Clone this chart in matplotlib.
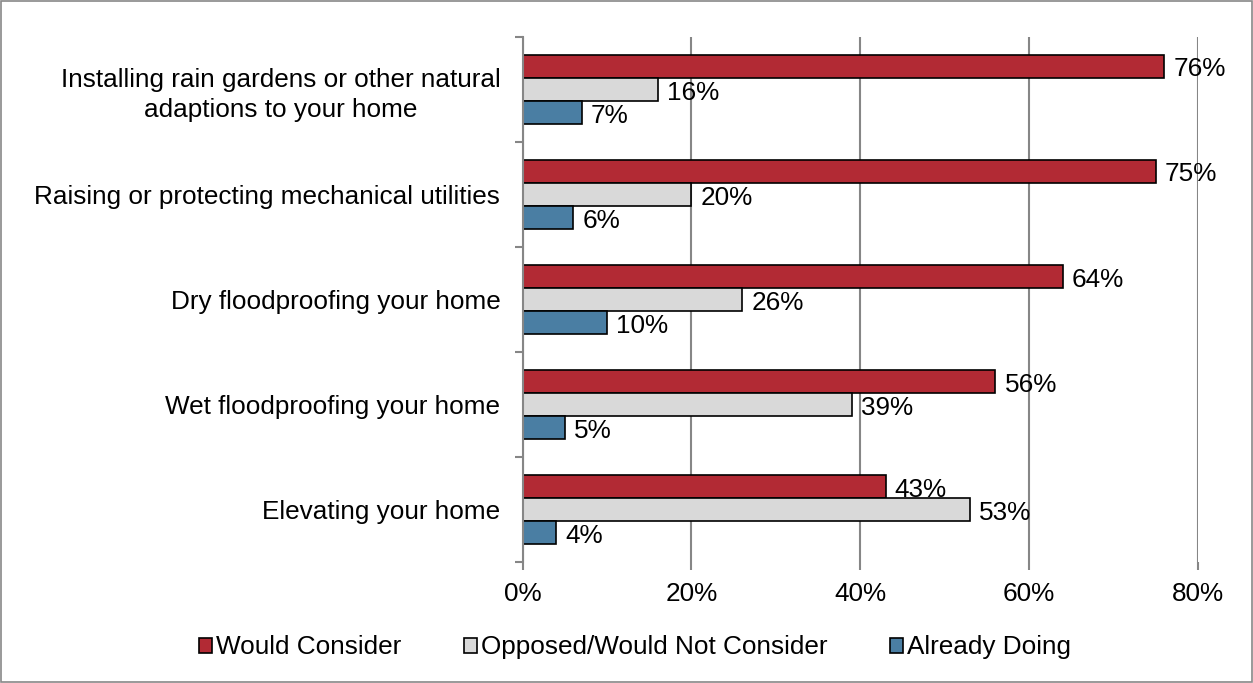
import numpy as np
import matplotlib.pyplot as plt
from matplotlib.patches import Rectangle

plt.rcParams['font.family'] = ['Liberation Sans', 'DejaVu Sans']

categories = ['Installing rain gardens or other natural\nadaptions to your home',
              'Raising or protecting mechanical utilities',
              'Dry floodproofing your home',
              'Wet floodproofing your home',
              'Elevating your home']
would_consider = [76, 75, 64, 56, 43]
opposed = [16, 20, 26, 39, 53]
already_doing = [7, 6, 10, 5, 4]
series_names = ['Would Consider', 'Opposed/Would Not Consider', 'Already Doing']
colors = ['#B22A34', '#D9D9D9', '#4A7EA3']

fs = 18.8
fig = plt.figure(figsize=(12.53, 6.83), dpi=100)
ax = fig.add_axes([0.417, 0.177, 0.539, 0.769])

n = len(categories)
y = np.arange(n)[::-1].astype(float)
h = 0.22
for k, (vals, name, col) in enumerate(zip([would_consider, opposed, already_doing], series_names, colors)):
    pos = y + h * (1 - k)
    ax.barh(pos, vals, height=h, color=col, edgecolor='black', linewidth=1.2, label=name, zorder=3)
    for p, v in zip(pos, vals):
        ax.text(v + 1.1, p - 0.03, f'{v}%', va='center', ha='left', fontsize=fs, zorder=4)

ax.set_xlim(0, 80)
ax.set_ylim(-0.5, n - 0.5)
ax.set_xticks([0, 20, 40, 60, 80])
ax.set_xticklabels([f'{t}%' for t in [0, 20, 40, 60, 80]], fontsize=fs)
ax.set_yticks(y)
ax.set_yticklabels(categories, fontsize=fs, ha='right', multialignment='center', linespacing=1.3)
ax.set_yticks(np.arange(n + 1) - 0.5, minor=True)
ax.tick_params(axis='y', which='major', length=0, pad=16)
ax.tick_params(axis='y', which='minor', length=6, color='#868686', width=1.5, direction='out')
ax.tick_params(axis='x', length=6, color='#868686', width=1.5, pad=8)
ax.grid(axis='x', color='#868686', linewidth=1.5, zorder=0)
for s in ['top', 'right', 'bottom']:
    ax.spines[s].set_visible(False)
ax.spines['left'].set_color('#868686')
ax.spines['left'].set_linewidth(1.5)
ax.spines['left'].set_zorder(5)

leg = fig.legend(loc='center', bbox_to_anchor=(0.507, 0.052), ncol=3, frameon=False, fontsize=fs,
                 handlelength=0.5, handleheight=0.5, handletextpad=0.15, columnspacing=2.4)

fig.patches.append(Rectangle((0.001, 0.001), 0.998, 0.998, transform=fig.transFigure,
                             fill=False, edgecolor='#888888', linewidth=1.2))

fig.savefig('out.png', dpi=100)
